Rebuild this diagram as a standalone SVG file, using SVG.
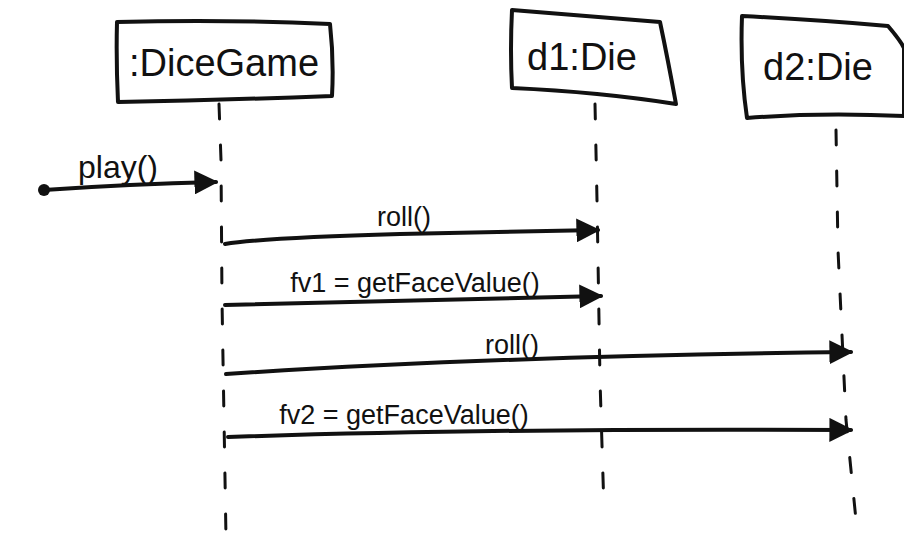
<svg xmlns="http://www.w3.org/2000/svg" width="904" height="538" viewBox="0 0 904 538">
<style>
.box{fill:none;stroke:#111;stroke-width:4;stroke-linejoin:round;stroke-linecap:round}
.life{fill:none;stroke:#111;stroke-width:3;stroke-dasharray:15 26;stroke-linecap:round}
.msg{fill:none;stroke:#111;stroke-width:4;stroke-linecap:round}
.lbl{font-family:"Liberation Sans","DejaVu Sans",sans-serif;fill:#111}
.name{font-size:38px}
.mlbl{font-size:27px}
.big{font-size:32px}
</style>
<defs>
<marker id="ah" viewBox="0 0 10 10" refX="9" refY="5" markerWidth="6" markerHeight="6" orient="auto" markerUnits="strokeWidth">
<path d="M0,0 L10,5 L0,10 Z" fill="#111"/>
</marker>
</defs>
<rect width="904" height="538" fill="#fff"/>
<g id="dicegame">
<path class="box" d="M117,22 Q225,19 330,24 Q334,60 332,96 Q225,100 118,102 Q116,60 117,22 Z"/>
<text class="lbl name" x="224" y="76" text-anchor="middle">:DiceGame</text>
</g>
<g id="d1">
<path class="box" d="M512,10 Q590,16 660,22 Q668,60 676,104 Q600,92 512,88 Q510,50 512,10 Z"/>
<text class="lbl name" x="582" y="70" text-anchor="middle">d1:Die</text>
</g>
<g id="d2">
<path class="box" d="M742,16 Q820,20 888,26 Q900,40 904,48 L904,116 Q820,112 747,118 Q740,70 742,16 Z"/>
<text class="lbl name" x="818" y="80" text-anchor="middle">d2:Die</text>
</g>
<g id="connectors">
<path class="life" d="M219,104 L221,160 L222,300 L226,538"/>
<path class="life" d="M595,104 L597,200 L600,380 L604,510"/>
<path class="life" d="M836,130 L838,250 L846,420 L856,520"/>
<circle cx="44" cy="190" r="6" fill="#111"/>
<path class="msg" d="M44,190 Q130,184 216,182" marker-end="url(#ah)"/>
<path class="msg" d="M225,244 Q260,238 400,234 L598,230" marker-end="url(#ah)"/>
<path class="msg" d="M225,305 Q400,300 601,296" marker-end="url(#ah)"/>
<path class="msg" d="M226,374 Q500,356 851,352" marker-end="url(#ah)"/>
<path class="msg" d="M228,437 Q500,428 851,430" marker-end="url(#ah)"/>
<text class="lbl big" x="118" y="178" text-anchor="middle">play()</text>
<text class="lbl mlbl" x="404" y="226" text-anchor="middle">roll()</text>
<text class="lbl mlbl" x="415" y="292" text-anchor="middle">fv1 = getFaceValue()</text>
<text class="lbl mlbl" x="512" y="354" text-anchor="middle">roll()</text>
<text class="lbl mlbl" x="404" y="424" text-anchor="middle">fv2 = getFaceValue()</text>
</g>
</svg>
